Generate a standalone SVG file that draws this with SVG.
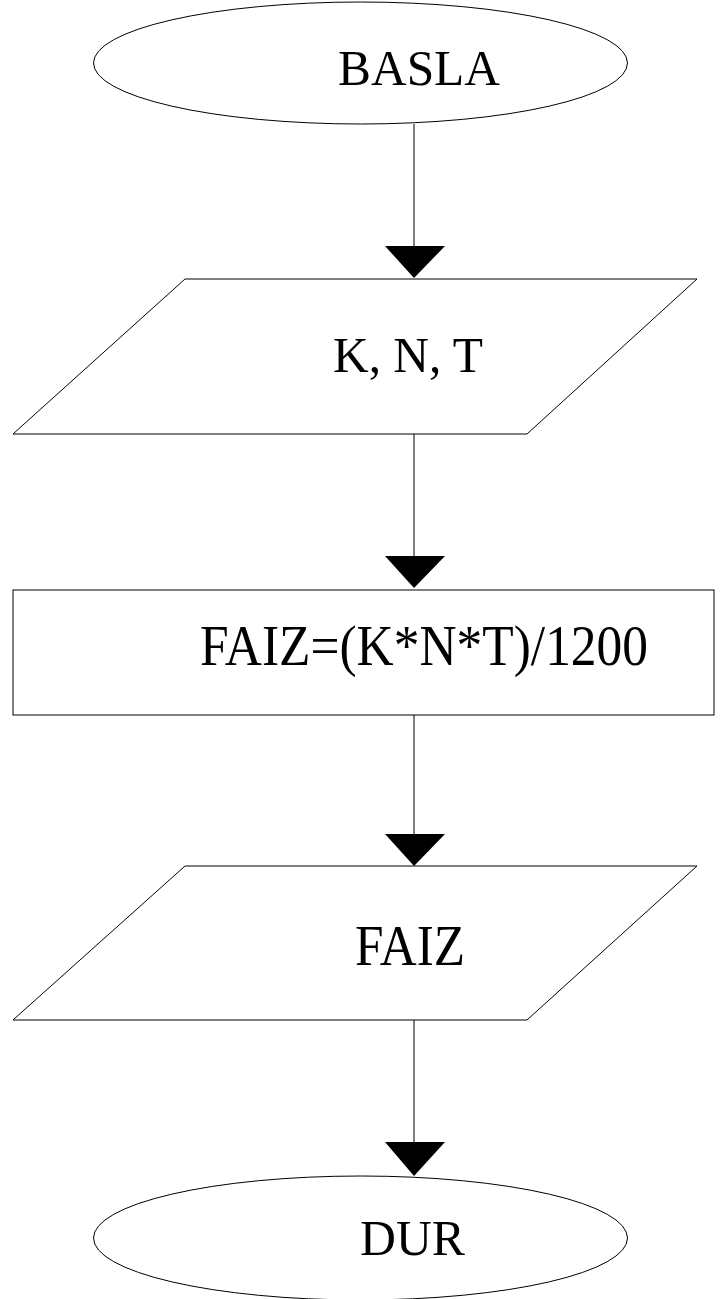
<svg xmlns="http://www.w3.org/2000/svg" width="721" height="1299" viewBox="0 0 721 1299">
  <style>
    .shape { fill: #ffffff; stroke: #000000; stroke-width: 1; }
    .wire { stroke: #000000; stroke-width: 1; fill: none; }
    .head { fill: #000000; stroke: none; }
    .label { font-family: "Liberation Serif", "Times New Roman", serif; fill: #000000; }
  </style>
  <rect width="721" height="1299" fill="#ffffff"/>

  <g id="connectors">
    <line class="wire" x1="414" y1="124" x2="414" y2="247"/>
    <polygon class="head" points="385,246 445,246 414,278"/>
    <line class="wire" x1="414" y1="434" x2="414" y2="557"/>
    <polygon class="head" points="385,556 445,556 414,588"/>
    <line class="wire" x1="414" y1="715" x2="414" y2="835"/>
    <polygon class="head" points="385,834 445,834 414,866"/>
    <line class="wire" x1="414" y1="1020" x2="414" y2="1143"/>
    <polygon class="head" points="385,1142 445,1142 414,1176"/>
  </g>

  <g id="start">
    <ellipse class="shape" cx="360.5" cy="63" rx="267" ry="61"/>
    <text class="label" x="338" y="85" font-size="51" textLength="162" lengthAdjust="spacingAndGlyphs">BASLA</text>
  </g>

  <g id="input">
    <polygon class="shape" points="185,279 697,279 527,434 13,434"/>
    <text class="label" x="333" y="372" font-size="51" textLength="150" lengthAdjust="spacingAndGlyphs">K, N, T</text>
  </g>

  <g id="compute">
    <rect class="shape" x="13" y="590" width="701" height="125"/>
    <text class="label" x="200" y="665" font-size="57" textLength="448" lengthAdjust="spacingAndGlyphs">FAIZ=(K*N*T)/1200</text>
  </g>

  <g id="output">
    <polygon class="shape" points="185,866 697,866 527,1020 13,1020"/>
    <text class="label" x="355" y="965" font-size="57" textLength="110" lengthAdjust="spacingAndGlyphs">FAIZ</text>
  </g>

  <g id="end">
    <ellipse class="shape" cx="360.5" cy="1238" rx="267" ry="62"/>
    <text class="label" x="360" y="1255" font-size="51" textLength="105" lengthAdjust="spacingAndGlyphs">DUR</text>
  </g>
</svg>
